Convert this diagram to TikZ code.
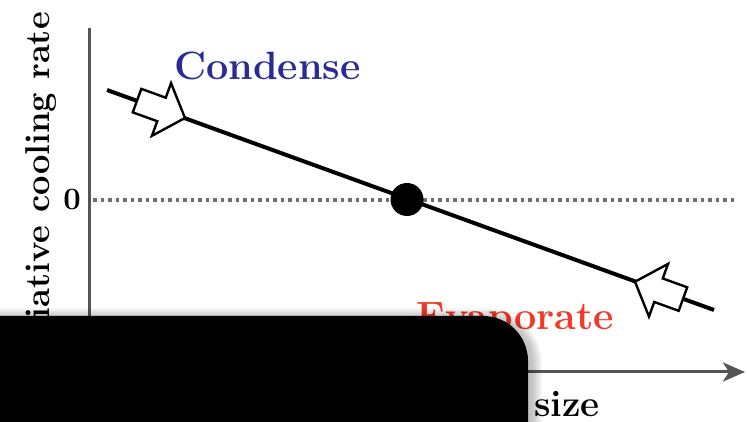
\documentclass[tikz,border=0pt]{standalone}
\usetikzlibrary{arrows.meta}
\definecolor{axisgray}{HTML}{555555}
\definecolor{dotgray}{HTML}{6E6E6E}
\definecolor{condblue}{HTML}{2B2B96}
\definecolor{evapred}{HTML}{F23A2A}
\tikzset{
  axisline/.style={draw=axisgray, line width=3pt},
  zeroline/.style={draw=dotgray, line width=3.5pt, dash pattern=on 3.5pt off 4pt},
  mainline/.style={draw=black, line width=4pt},
  blockarrow/.style={draw=black, fill=white, line width=2.4pt, line join=miter},
  biglabel/.style={font=\fontsize{39.5}{44}\selectfont\bfseries, inner sep=0pt},
}
\newcommand{\arrowshape}{(0,0) -- (-25,28) -- (-25,12.5) -- (-51,12.5) -- (-51,-12.5) -- (-25,-12.5) -- (-25,-28) -- cycle}
\begin{document}
\begin{tikzpicture}[x=1pt, y=1pt]
\useasboundingbox (0,0) rectangle (747,422);
\fill[white] (0,0) rectangle (747,422);
% axes
\coordinate (yaxtop) at (89,394);
\coordinate (yaxbot) at (89,40);
\coordinate (xaxleft) at (80,50);
\coordinate (xaxright) at (745,50);
\draw[axisline] (yaxbot) -- (yaxtop);
\draw[axisline, -{Stealth[length=22pt, width=19pt, inset=6pt]}] (xaxleft) -- (xaxright);
% zero line
\coordinate (zl) at (93,222);
\coordinate (zr) at (735,222);
\draw[zeroline] (zl) -- (zr);
\node[font=\fontsize{31}{34}\selectfont\bfseries, inner sep=0pt] (zero) at (72,222) {0};
% labels
\node[biglabel, text=condblue, anchor=base west] (cond) at (174,342) {Condense};
\node[biglabel, text=evapred, anchor=base east] (evap) at (614,92.5) {Evaporate};
\node[font=\fontsize{37}{40}\selectfont\bfseries, inner sep=0pt, anchor=base west] (size) at (534,5) {size};
\node[font=\fontsize{34.5}{38}\selectfont\bfseries, inner sep=0pt, rotate=90, anchor=base east] (ylab) at (50,410) {Net radiative cooling rate};
% main line
\coordinate (ls) at (107,332);
\coordinate (le) at (714,112);
\draw[mainline] (ls) -- (le);
\fill (407,222.5) circle (16.5);
\node[circle, minimum size=33pt, inner sep=0pt] (eq) at (407,222.5) {};
% arrows
\begin{scope}[shift={(185,304)}, rotate=-19.92]
  \draw[blockarrow] \arrowshape;
\end{scope}
\begin{scope}[shift={(635,140.3)}, rotate=160.08]
  \draw[blockarrow] \arrowshape;
\end{scope}
% overlay box with soft shadow
\foreach \i in {1,...,7} {
  \fill[black, opacity=0.035, rounded corners={45pt+\i*1.6pt}]
    (-60,-60) rectangle ({528+3+\i*1.6},{106-2+\i*1.4});
}
\fill[black, rounded corners=45pt] (-60,-60) rectangle (528,106);
\end{tikzpicture}
\end{document}
